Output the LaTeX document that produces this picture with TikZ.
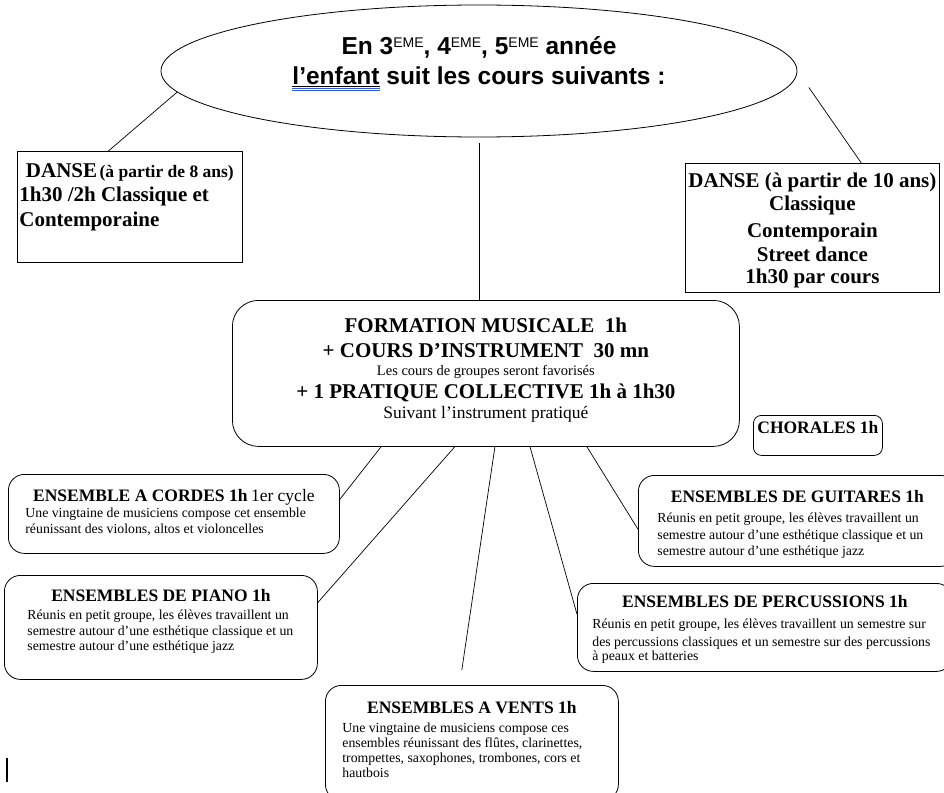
\documentclass[tikz,border=0pt]{standalone}
\usepackage{fontspec}
\setmainfont{Liberation Serif}
\newfontfamily\titrefont{Liberation Sans}
\usetikzlibrary{shapes.geometric}
\definecolor{soulignebleu}{RGB}{50,90,220}

% lignes de texte placees a la main (baseline a baseline)
\newenvironment{bloc}[2]{\vtop\bgroup\hsize=#1\relax\def\marge{#2}\offinterlineskip\vskip0pt}{\egroup}
\newcommand{\lcentre}[2]{\vskip#1\relax\hbox to\hsize{\hss\smash{#2}\hss}}
\newcommand{\lgauche}[2]{\vskip#1\relax\hbox to\hsize{\hskip\marge\smash{#2}\hss}}
\newcommand{\titreens}[1]{{\fontsize{17.5}{18}\selectfont\bfseries #1}}
\newcommand{\grand}[1]{{\fontsize{21}{22}\selectfont\bfseries #1}}
\newcommand{\moyen}[1]{{\fontsize{17.5}{18}\selectfont #1}}
\newcommand{\exposant}[1]{\raisebox{7.5pt}{\fontsize{14}{14}\selectfont\mdseries #1}}
\newlength\largenf
\newcommand{\souligne}[1]{\settowidth\largenf{#1}%
  \rlap{\rule[-2pt]{\largenf}{0.9pt}}%
  \rlap{\textcolor{soulignebleu}{\rule[-3.8pt]{\largenf}{0.7pt}}}%
  \rlap{\textcolor{soulignebleu}{\rule[-6pt]{\largenf}{0.7pt}}}#1}

\begin{document}
\begin{tikzpicture}[x=1pt, y=-1pt, line width=0.8pt,
    titre/.style={draw, ellipse, minimum width=636pt, minimum height=132pt, inner sep=0pt,
        text height=20pt, text depth=52pt, font=\titrefont\bfseries\fontsize{24.5}{26}\selectfont},
    danse/.style={draw, rectangle, inner sep=0pt, anchor=north west},
    ens/.style={draw, rectangle, rounded corners=16pt, inner sep=0pt, anchor=north west,
        font=\fontsize{13.8}{15.5}\selectfont},
    trait/.style={line width=0.7pt},
    curseur/.style={fill=black, minimum width=1.3pt, minimum height=24pt, inner sep=0pt}]
    \useasboundingbox (0,0) rectangle (944,792);

    % Nodes
    \node[titre] (titre) at (479,71) {\begin{bloc}{400pt}{0pt}
        \lcentre{0pt}{En 3\exposant{EME}, 4\exposant{EME}, 5\exposant{EME} année}
        \lcentre{30pt}{\souligne{l’enfant} suit les cours suivants :}
    \end{bloc}};

    \node[danse, text height=26pt, text depth=85pt] (dg) at (17,151) {\begin{bloc}{225pt}{2pt}
        \lcentre{0pt}{\grand{DANSE} \titreens{(à partir de 8 ans)}}
        \lgauche{24pt}{\grand{1h30 /2h Classique et}}
        \lgauche{25pt}{\grand{Contemporaine}}
    \end{bloc}};

    \node[danse, text height=24pt, text depth=105pt] (dd) at (685,163) {\begin{bloc}{254pt}{0pt}
        \lcentre{0pt}{\grand{DANSE (à partir de 10 ans)}}
        \lcentre{23pt}{\grand{Classique}}
        \lcentre{27pt}{\grand{Contemporain}}
        \lcentre{24pt}{\grand{Street dance}}
        \lcentre{22pt}{\grand{1h30 par cours}}
    \end{bloc}};

    \node[ens, rounded corners=26pt, text height=32pt, text depth=114pt] (fm) at (232,300) {\begin{bloc}{507pt}{0pt}
        \lcentre{0pt}{\grand{FORMATION MUSICALE\ \ 1h}}
        \lcentre{25pt}{\grand{+ COURS D’INSTRUMENT\ \ 30 mn}}
        \lcentre{18pt}{\fontsize{14.5}{15}\selectfont Les cours de groupes seront favorisés}
        \lcentre{23pt}{\grand{+ 1 PRATIQUE COLLECTIVE 1h à 1h30}}
        \lcentre{20pt}{\moyen{Suivant l’instrument pratiqué}}
    \end{bloc}};

    \node[ens, rounded corners=8pt, text height=18pt, text depth=22pt] (chorales) at (753,415) {\begin{bloc}{129pt}{0pt}
        \lcentre{0pt}{\titreens{CHORALES 1h}}
    \end{bloc}};

    \node[ens, text height=27pt, text depth=52pt] (cordes) at (8,474) {\begin{bloc}{331pt}{17pt}
        \lcentre{0pt}{\titreens{ENSEMBLE A CORDES 1h} \moyen{1er cycle}}
        \lgauche{16pt}{Une vingtaine de musiciens compose cet ensemble}
        \lgauche{16pt}{réunissant des violons, altos et violoncelles}
    \end{bloc}};

    \node[ens, text height=26pt, text depth=78pt] (piano) at (4,575) {\begin{bloc}{313pt}{23pt}
        \lcentre{0pt}{\titreens{ENSEMBLES DE PIANO 1h}}
        \lgauche{18pt}{Réunis en petit groupe, les élèves travaillent un}
        \lgauche{16pt}{semestre autour d’une esthétique classique et un}
        \lgauche{15pt}{semestre autour d’une esthétique jazz}
    \end{bloc}};

    \node[ens, text height=27pt, text depth=64pt] (guitares) at (638,475) {\begin{bloc}{318pt}{19pt}
        \lcentre{0pt}{\titreens{ENSEMBLES DE GUITARES 1h}}
        \lgauche{20pt}{Réunis en petit groupe, les élèves travaillent un}
        \lgauche{17pt}{semestre autour d’une esthétique classique et un}
        \lgauche{16pt}{semestre autour d’une esthétique jazz}
    \end{bloc}};

    \node[ens, text height=24pt, text depth=64pt] (percus) at (577,583) {\begin{bloc}{375pt}{15pt}
        \lcentre{0pt}{\titreens{ENSEMBLES DE PERCUSSIONS 1h}}
        \lgauche{21pt}{Réunis en petit groupe, les élèves travaillent un semestre sur}
        \lgauche{18pt}{des percussions classiques et un semestre sur des percussions}
        \lgauche{14pt}{à peaux et batteries}
    \end{bloc}};

    \node[ens, text height=28pt, text depth=87pt] (vents) at (325,685) {\begin{bloc}{293pt}{17pt}
        \lcentre{0pt}{\titreens{ENSEMBLES A VENTS 1h}}
        \lgauche{19pt}{Une vingtaine de musiciens compose ces}
        \lgauche{15pt}{ensembles réunissant des flûtes, clarinettes,}
        \lgauche{15pt}{trompettes, saxophones, trombones, cors et}
        \lgauche{15pt}{hautbois}
    \end{bloc}};

    \node[curseur] (curseur) at (7,770) {};

    % Edges
    \draw[trait] (titre.184) -- (dg.111);
    \draw[trait, shorten <=20pt] (titre.0) -- (dd.53);
    \draw[trait, shorten <=6pt] (titre.south) -- (titre.south |- fm.north);

    \draw[trait] (fm.215) -- (cordes.5);
    \draw[trait] (fm.247) -- (piano.9);
    \draw[trait, shorten >=15pt] (fm.277) -- (vents.102);
    \draw[trait] (fm.301) -- (percus.176);
    \draw[trait] (fm.324) -- (guitares.183);
\end{tikzpicture}
\end{document}
